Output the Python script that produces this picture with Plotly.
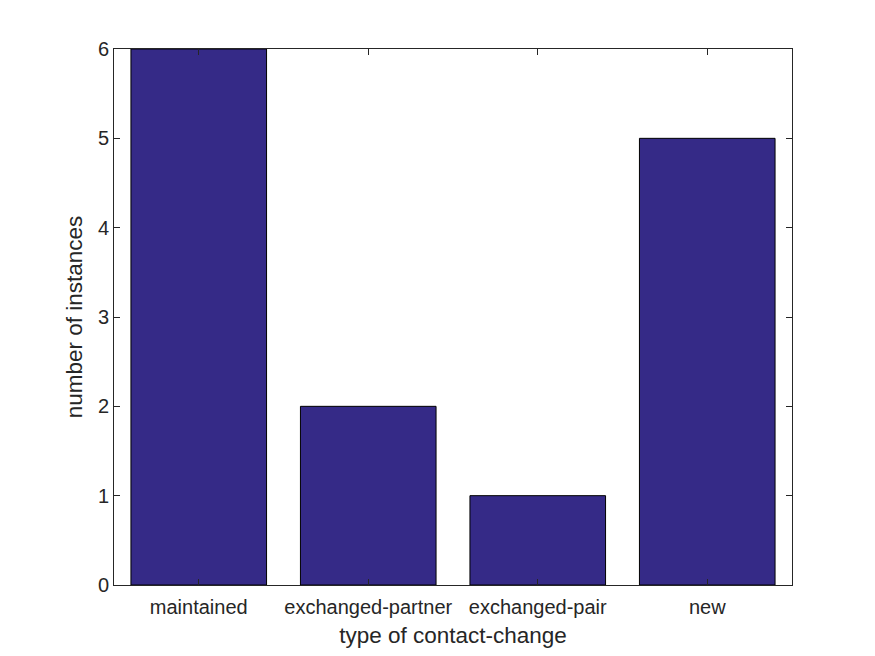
import plotly.graph_objects as go

categories = ["maintained", "exchanged-partner", "exchanged-pair", "new"]
counts = [6, 2, 1, 5]

fig = go.Figure(go.Bar(
    x=list(range(1, len(categories) + 1)), y=counts,
    width=0.8,
    marker=dict(color="#352a87", line=dict(color="black", width=1)),
))

axis_common = dict(
    showline=True, mirror="allticks", linecolor="#262626", linewidth=1,
    ticks="inside", ticklen=6, tickcolor="#262626",
    showgrid=False, zeroline=False,
    tickfont=dict(family="Liberation Sans, Arial", size=20, color="#262626"),
    title_font=dict(family="Liberation Sans, Arial", size=22.5, color="#262626"),
)

fig.update_layout(
    width=875, height=656,
    margin=dict(l=106, r=91, t=41, b=79),
    paper_bgcolor="white", plot_bgcolor="white",
    showlegend=False,
    xaxis=dict(range=[0.5, 4.5], tickvals=[1, 2, 3, 4], ticktext=categories,
               ticklabelstandoff=4,
               title=dict(text="type of contact-change", standoff=10), **axis_common),
    yaxis=dict(range=[0, 6], dtick=1,
               title=dict(text="number of instances", standoff=9), **axis_common),
)

fig.write_html("out.html")
